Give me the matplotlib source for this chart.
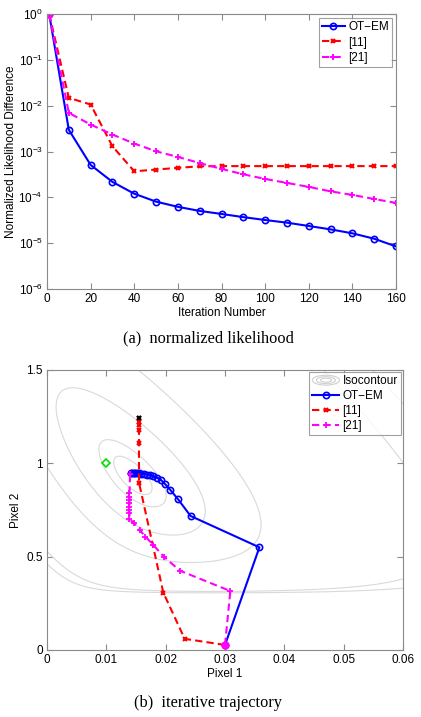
import numpy as np
import matplotlib
matplotlib.use("Agg")
import matplotlib.pyplot as plt
from matplotlib.legend_handler import HandlerBase
from matplotlib.patches import Ellipse
from matplotlib.lines import Line2D

plt.rcParams['font.family'] = ['Liberation Sans', 'DejaVu Sans']
plt.rcParams['mathtext.default'] = 'regular'

# ---------------- data: normalized likelihood ----------------
iterations = [1, 10, 20, 30, 40, 50, 60, 70, 80, 90, 100, 110, 120, 130, 140, 150, 160]
nl_otem = [1.0, 2.97e-3, 5.1e-4, 2.17e-4, 1.2e-4, 8.05e-5, 6.2e-5, 5.05e-5, 4.34e-5,
           3.7e-5, 3.2e-5, 2.8e-5, 2.37e-5, 2.0e-5, 1.64e-5, 1.25e-5, 8.5e-6]
nl_ref11 = [1.0, 1.48e-2, 1.06e-2, 1.3e-3, 3.7e-4, 4.03e-4, 4.4e-4, 4.75e-4, 4.8e-4,
            4.8e-4, 4.8e-4, 4.8e-4, 4.8e-4, 4.8e-4, 4.8e-4, 4.8e-4, 4.8e-4]
nl_ref21 = [1.0, 6.97e-3, 3.87e-3, 2.34e-3, 1.49e-3, 1.01e-3, 7.6e-4, 5.6e-4, 4.17e-4,
            3.18e-4, 2.52e-4, 2.06e-4, 1.69e-4, 1.35e-4, 1.13e-4, 9.2e-5, 7.55e-5]

# ---------------- data: iterative trajectory ----------------
otem_p1 = [0.0300, 0.0358, 0.0242, 0.0221, 0.0208, 0.0199, 0.0192, 0.0186, 0.0179,
           0.0173, 0.0168, 0.0163, 0.0159, 0.0155, 0.0152, 0.0149, 0.0146, 0.0144, 0.0142]
otem_p2 = [0.027, 0.550, 0.718, 0.807, 0.857, 0.889, 0.911, 0.923, 0.931,
           0.936, 0.940, 0.943, 0.945, 0.946, 0.947, 0.948, 0.948, 0.948, 0.948]
ref11_p1 = [0.0300, 0.0232, 0.0196, 0.0155, 0.0155, 0.0155, 0.0155, 0.0155, 0.0155]
ref11_p2 = [0.027, 0.060, 0.308, 0.897, 1.108, 1.179, 1.206, 1.224, 1.242]
ref21_p1 = [0.0300, 0.0309, 0.0224, 0.0197, 0.0179, 0.0166, 0.0156, 0.0147, 0.0139,
            0.0139, 0.0139, 0.0139, 0.0139, 0.0139, 0.0139, 0.0139, 0.0140]
ref21_p2 = [0.027, 0.316, 0.425, 0.500, 0.563, 0.607, 0.643, 0.679, 0.702,
            0.732, 0.750, 0.768, 0.786, 0.804, 0.821, 0.840, 0.942]
true_p1 = [0.010]
true_p2 = [1.0]

optimum = (0.0145, 0.93)
iso_points = [
    [(0.0118, 0.95), (0.0185, 0.8125), (0.0135, 1.02)],
    [(0.0096, 1.054), (0.0107, 1.143), (0.0242, 0.875), (0.0185, 0.786)],
    [(0.0062, 1.143), (0.0084, 1.286), (0.0124, 1.295), (0.0368, 0.73), (0.025, 0.63)],
    [(0.0006, 0.946), (0.0034, 1.18), (0.056, 0.625), (0.035, 0.585)],
    [(0.0, 0.52), (0.06, 0.39), (0.02, 1.5), (0.06, 1.036)],
    [(0.0, 0.44), (0.06, 0.33), (0.0325, 1.5), (0.06, 1.30)],
]

GRAY = '#8a8a8a'
FS = 8.5


def neg_loglik(x, y):
    # Poisson measurements: a mix of both pixels, and pixel 2 alone (with offset)
    s, s0 = np.asarray(x) / 0.01, optimum[0] / 0.01
    y = np.asarray(y, dtype=float)
    m1 = np.clip(0.467 * s + y, 1e-6, None)
    n1 = 0.467 * s0 + optimum[1]
    m2 = np.clip(y - 0.3, 1e-6, None)
    n2 = optimum[1] - 0.3
    return (m1 - n1 * np.log(m1)) + 0.455 * (m2 - n2 * np.log(m2))


class ContourHandler(HandlerBase):
    def create_artists(self, legend, orig_handle, xdescent, ydescent, width, height, fontsize, trans):
        arts = []
        cx, cy = width / 2 - xdescent, height / 2 - ydescent
        for s in (1.0, 0.7, 0.4):
            e = Ellipse((cx, cy), width * s, height * 1.2 * s, fill=False,
                        edgecolor='#d0d0d0', lw=0.8, transform=trans)
            arts.append(e)
        return arts


def style(ax):
    ax.tick_params(direction='in', top=True, right=True, length=4, width=0.8,
                   labelsize=FS, color=GRAY, pad=3)
    ax.tick_params(which='minor', length=0)
    for sp in ax.spines.values():
        sp.set_color(GRAY)
        sp.set_linewidth(0.8)


fig = plt.figure(figsize=(4.21, 7.17), dpi=100)
W, H = 421.0, 717.0

# ---------------- top axes ----------------
ax1 = fig.add_axes([47 / W, 1 - 289 / H, (396 - 47) / W, (289 - 14) / H])
ax1.plot(iterations, nl_otem, '-o', color='#0000ff', lw=1.5, ms=4.5, mfc='none', mew=1.2,
         label='OT\u2212EM')
ax1.plot(iterations, nl_ref11, '--x', color='#ff0000', lw=1.5, ms=3.5, mew=1.5, label='[11]',
         dashes=(3.5, 2))
ax1.plot(iterations, nl_ref21, '--+', color='#ff00ff', lw=1.5, ms=5, mew=1.4, label='[21]',
         dashes=(3.5, 2))
ax1.plot(iterations[0], nl_ref21[0], 'o', color='#ff00ff', ms=5)
ax1.set_yscale('log')
ax1.set_xlim(0, 160)
ax1.set_ylim(1e-6, 1)
ax1.set_xticks(np.arange(0, 161, 20))
ax1.set_yticks([1e-6, 1e-5, 1e-4, 1e-3, 1e-2, 1e-1, 1])
ax1.set_xlabel('Iteration Number', fontsize=FS, labelpad=1)
ax1.set_ylabel('Normalized Likelihood Difference', fontsize=FS, labelpad=1)
style(ax1)
leg1 = ax1.legend(loc='upper right', fontsize=FS, frameon=True, fancybox=False,
                  edgecolor=GRAY, borderpad=0.25, handlelength=2.0, handletextpad=0.25,
                  labelspacing=0.3, borderaxespad=0.35)
leg1.get_frame().set_linewidth(0.8)

# ---------------- bottom axes ----------------
ax2 = fig.add_axes([47 / W, 1 - 650 / H, (403 - 47) / W, (650 - 370) / H])
gx = np.linspace(0, 0.06, 500)
gy = np.linspace(0, 1.5, 500)
X, Y = np.meshgrid(gx, gy)
F0 = neg_loglik(optimum[0], optimum[1])
F = neg_loglik(X, Y) - F0
levels = sorted(float(np.median([neg_loglik(px, py) - F0 for px, py in pts]))
                for pts in iso_points)
ax2.contour(X, Y, F, levels=levels, colors='#d9d9d9', linewidths=0.8)

ax2.plot(otem_p1, otem_p2, '-o', color='#0000ff', lw=1.5, ms=4.5, mfc='none', mew=1.2)
ax2.plot(ref11_p1, ref11_p2, '--x', color='#ff0000', lw=1.5, ms=3.5, mew=1.5, dashes=(3.5, 2))
ax2.plot(ref21_p1, ref21_p2, '--+', color='#ff00ff', lw=1.5, ms=5, mew=1.3, dashes=(3.5, 2))
ax2.plot(ref11_p1[-1], ref11_p2[-1], 'x', color='black', ms=3.5, mew=1.5)
ax2.plot(otem_p1[0], otem_p2[0], 'o', color='#ff00ff', ms=5)
ax2.plot(true_p1, true_p2, 'D', color='#00e000', mfc='none', ms=4.5, mew=1.2)
ax2.set_xlim(0, 0.06)
ax2.set_ylim(0, 1.5)
ax2.set_xticks([0, 0.01, 0.02, 0.03, 0.04, 0.05, 0.06])
ax2.set_xticklabels(['0', '0.01', '0.02', '0.03', '0.04', '0.05', '0.06'])
ax2.set_yticks([0, 0.5, 1, 1.5])
ax2.set_yticklabels(['0', '0.5', '1', '1.5'])
ax2.set_xlabel('Pixel 1', fontsize=FS, labelpad=1)
ax2.set_ylabel('Pixel 2', fontsize=FS, labelpad=3)
style(ax2)

handles = [Line2D([], []),
           Line2D([], [], ls='-', marker='o', color='#0000ff', lw=1.5, ms=4.5, mfc='none', mew=1.2),
           Line2D([], [], ls='--', marker='x', color='#ff0000', lw=1.5, ms=3.5, mew=1.5, dashes=(3.5, 2)),
           Line2D([], [], ls='--', marker='+', color='#ff00ff', lw=1.5, ms=5, mew=1.3, dashes=(3.5, 2))]
labels = ['Isocontour', 'OT\u2212EM', '[11]', '[21]']
leg2 = ax2.legend(handles, labels, loc='upper right', fontsize=FS, frameon=True, fancybox=False,
                  edgecolor=GRAY, borderpad=0.25, handlelength=2.3, handletextpad=0.25,
                  labelspacing=0.25, borderaxespad=0.2,
                  handler_map={handles[0]: ContourHandler()})
leg2.get_frame().set_linewidth(0.8)

# ---------------- captions ----------------
fig.text(208 / W, 1 - 338 / H, '(a)  normalized likelihood', ha='center', va='center',
         fontsize=11.8, family=['Liberation Serif'])
fig.text(208 / W, 1 - 703 / H, '(b)  iterative trajectory', ha='center', va='center',
         fontsize=11.8, family=['Liberation Serif'])

fig.savefig('out.png', dpi=100)
